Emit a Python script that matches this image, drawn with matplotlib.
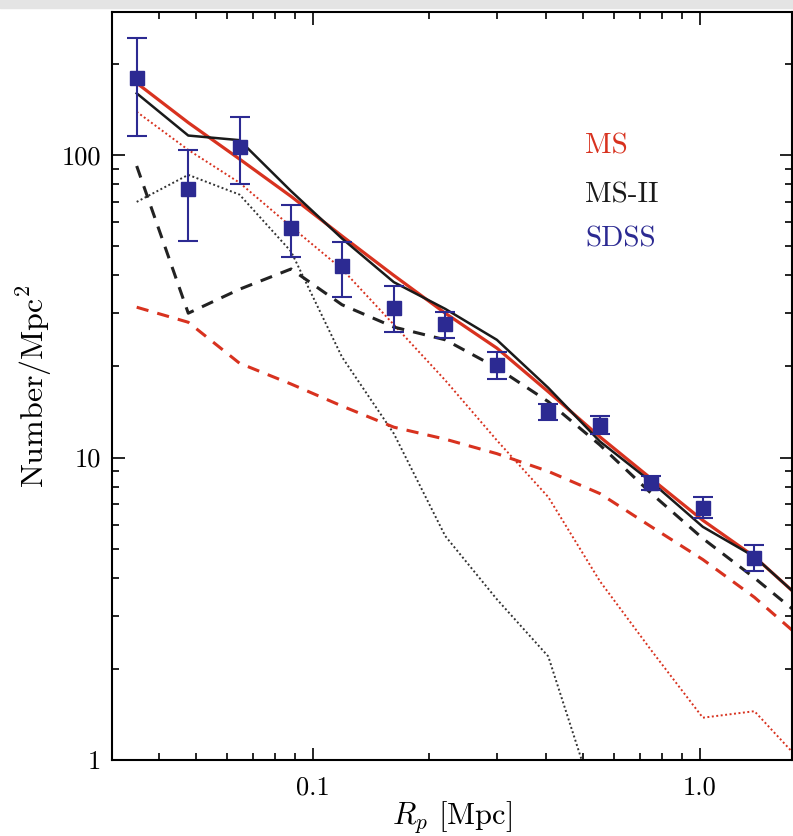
import matplotlib.pyplot as plt
from matplotlib.patches import Rectangle
from matplotlib.ticker import FixedLocator, FixedFormatter, LogLocator, NullFormatter

plt.rcParams['font.family'] = 'cmr10'
plt.rcParams['mathtext.fontset'] = 'cm'
plt.rcParams['axes.formatter.use_mathtext'] = True

# projected radius bins [Mpc]
rp = [0.0351, 0.0477, 0.0647, 0.0879, 0.119, 0.162, 0.220, 0.299, 0.406,
      0.552, 0.750, 1.018, 1.384, 1.88]

# SDSS counts with asymmetric errors
sdss = [180, 77, 106, 57.4, 43, 31.2, 27.6, 20.2, 14.1, 12.8, 8.24, 6.81, 4.65]
sdss_hi = [244, 104, 134, 68.4, 51.6, 36.9, 30.3, 22.3, 15.0, 13.7, 8.7, 7.4, 5.14]
sdss_lo = [116, 52, 80, 46, 34, 26.0, 24.8, 18.2, 13.3, 12.0, 7.8, 6.3, 4.22]

ms_total = [173, 128, 97, 73, 54, 40, 30, 23, 16.5, 11.7, 8.5, 6.2, 4.7, 3.3]
ms_dashed = [31.4, 28, 20.5, 17.5, 14.8, 12.6, 11.5, 10.3, 9.0, 7.6, 5.9, 4.6, 3.45, 2.45]
ms_dotted = [139, 104, 81, 58, 42, 27.5, 18, 11.4, 7.4, 3.9, 2.3, 1.38, 1.45, 0.95]

ms2_total = [160, 116, 112, 76, 53, 38, 31, 24.5, 17, 11.3, 8.3, 5.9, 4.7, 3.3]
ms2_dashed = [92, 30, 36, 42, 32, 27, 24.5, 19.8, 15.3, 11, 7.6, 5.4, 4.0, 2.9]
ms2_dotted = [70, 86, 74, 48, 21.5, 12, 5.5, 3.4, 2.2, 0.65]

red = '#d8321f'
blue = '#2c2a92'

fig = plt.figure(figsize=(7.93, 8.36), dpi=100)
fig.patches.append(Rectangle((0, 0.99), 1, 0.01, transform=fig.transFigure,
                             color='#e4e4e4', zorder=0))
ax = fig.add_axes([0.1412, 0.0909, 0.8575, 0.8947])

ax.plot(rp, ms_dotted, color=red, lw=1.4, ls=(0, (1, 1.3)))
ax.plot(rp[:len(ms2_dotted)], ms2_dotted, color='#333333', lw=1.4, ls=(0, (1, 1.3)))
ax.plot(rp, ms_dashed, color=red, lw=2.2, ls=(0, (4, 3)))
ax.plot(rp, ms2_dashed, color='#222222', lw=2.2, ls=(0, (4, 3)))
ax.plot(rp, ms_total, color=red, lw=2.3)
ax.plot(rp, ms2_total, color='#1a1a1a', lw=1.8)

yerr = [[s - l for s, l in zip(sdss, sdss_lo)], [h - s for s, h in zip(sdss, sdss_hi)]]
ax.errorbar(rp[:len(sdss)], sdss, yerr=yerr, fmt='s', color=blue, ms=10,
            capsize=7, elinewidth=1.5, capthick=1.5, zorder=5)

ax.set_xscale('log')
ax.set_yscale('log')
ax.set_xlim(0.0303, 1.73)
ax.set_ylim(1, 297)

ax.xaxis.set_major_locator(FixedLocator([0.1, 1.0]))
ax.xaxis.set_major_formatter(FixedFormatter(['0.1', '1.0']))
ax.xaxis.set_minor_locator(LogLocator(base=10, subs=range(2, 10)))
ax.xaxis.set_minor_formatter(NullFormatter())
ax.yaxis.set_major_locator(FixedLocator([1, 10, 100]))
ax.yaxis.set_major_formatter(FixedFormatter(['1', '10', '100']))
ax.yaxis.set_minor_locator(LogLocator(base=10, subs=range(2, 10)))
ax.yaxis.set_minor_formatter(NullFormatter())

ax.tick_params(which='both', direction='in', top=True, right=True, width=1.2)
ax.tick_params(which='major', length=9, labelsize=19)
ax.tick_params(axis='x', which='major', pad=11)
ax.tick_params(axis='y', which='major', pad=8)
ax.tick_params(which='minor', length=5)
for sp in ax.spines.values():
    sp.set_linewidth(1.5)

ax.set_xlabel('$R_p$ [Mpc]', fontsize=22, labelpad=0)
ax.set_ylabel('Number/Mpc$^2$', fontsize=23, labelpad=5)

ax.text(0.6956, 0.8115, 'MS', color=red, fontsize=21, transform=ax.transAxes)
ax.text(0.6956, 0.746, 'MS-II', color='#1a1a1a', fontsize=21, transform=ax.transAxes)
ax.text(0.6956, 0.686, 'SDSS', color=blue, fontsize=21, transform=ax.transAxes)

fig.savefig('out.png', dpi=100)
